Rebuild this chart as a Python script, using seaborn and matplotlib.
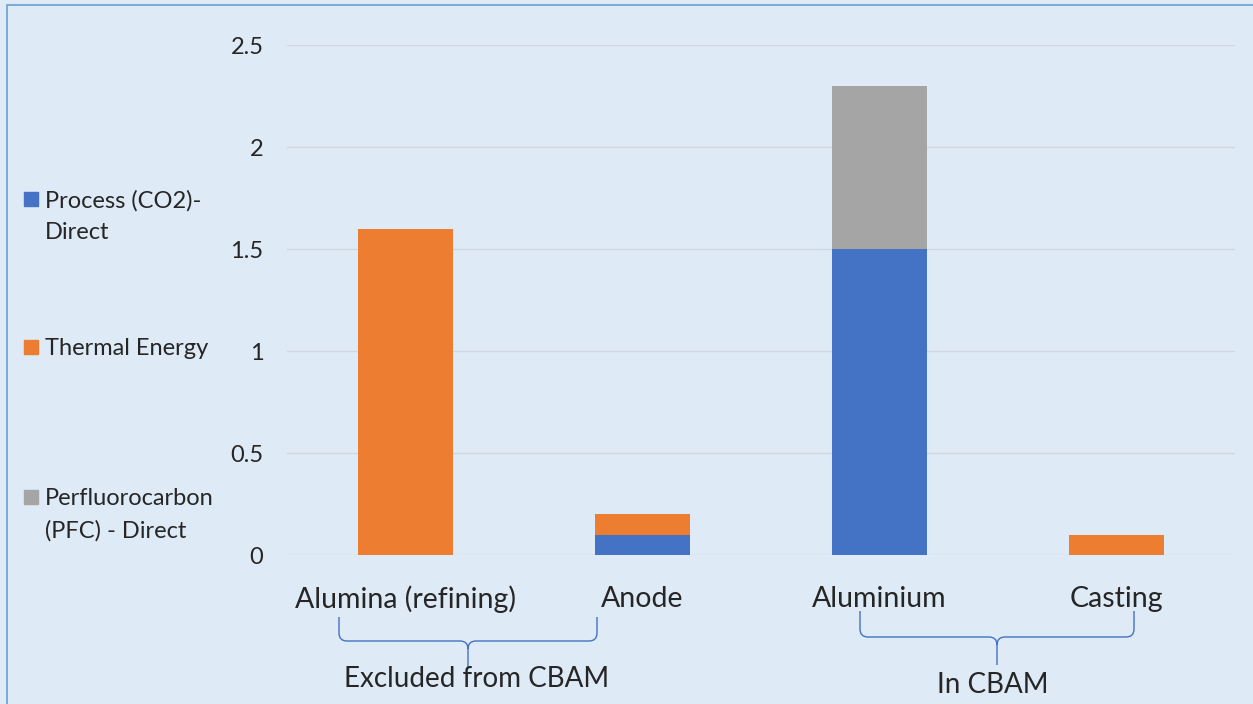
import matplotlib
matplotlib.use("Agg")
import matplotlib.pyplot as plt
import pandas as pd
import seaborn as sns
from matplotlib.path import Path
from matplotlib.patches import PathPatch, Rectangle

# data
categories = ["Alumina (refining)", "Anode", "Aluminium", "Casting"]
process = [0, 0.1, 1.5, 0]
thermal = [1.6, 0.1, 0, 0.1]
pfc = [0, 0, 0.8, 0]
series = ["Process (CO2)-\nDirect", "Thermal Energy", "Perfluorocarbon\n(PFC) - Direct"]
colors = ["#4472C4", "#ED7D31", "#A5A5A5"]
groups = ["Excluded from CBAM", "In CBAM"]
yticks = [0, 0.5, 1, 1.5, 2, 2.5]
ytick_labels = ["0", "0.5", "1", "1.5", "2", "2.5"]

bg = "#DEEAF6"
sns.set_style("white")
plt.rcParams["font.family"] = ["Lato", "DejaVu Sans"]

W, H = 1253, 704
fig = plt.figure(figsize=(W / 100, H / 100), dpi=100, facecolor=bg)
ax = fig.add_axes([287 / W, 1 - 555 / H, (1235 - 287) / W, (555 - 45) / H])
ax.set_facecolor(bg)

df = pd.DataFrame({"cat": categories, "process": process,
                   "thermal": thermal, "pfc": pfc})
df["c1"] = df["process"]
df["c2"] = df["c1"] + df["thermal"]
df["c3"] = df["c2"] + df["pfc"]

# stacked bars drawn as cumulative totals, top layer first
for col, color, z in [("c3", colors[2], 2), ("c2", colors[1], 3), ("c1", colors[0], 4)]:
    sns.barplot(data=df, x="cat", y=col, color=color, width=0.4,
                saturation=1, ax=ax, zorder=z, linewidth=0)

ax.set_ylim(0, 2.5)
ax.set_xlim(-0.5, 3.5)
ax.set_yticks(yticks)
ax.set_yticklabels(ytick_labels)
ax.yaxis.grid(True, color="#D0D7DE", linewidth=1)
ax.set_axisbelow(True)
for s in ax.spines.values():
    s.set_visible(False)
ax.tick_params(axis="y", length=0, pad=17, labelsize=17)
ax.tick_params(axis="x", length=0, pad=22, labelsize=20.5)
ax.set_xlabel("")
ax.set_ylabel("")

# legend on the left
leg_y = [199, 347, 497]
for lab, color, y in zip(series, colors, leg_y):
    fig.patches.append(Rectangle((24 / W, 1 - (y + 7) / H), 14 / W, 14 / H,
                                 transform=fig.transFigure, color=color))
    fig.text(45 / W, 1 - (y - 9) / H, lab, fontsize=17, va="top", ha="left",
             linespacing=1.62)


# braces under the categories
def brace(x0, x1, xm, ytop, ymid, ybot, r=8):
    pts = [(x0, ytop), (x0, ymid - r), (x0, ymid), (x0 + r, ymid),
           (xm - r, ymid), (xm, ymid), (xm, ymid + r), (xm, ybot),
           (xm, ymid + r), (xm, ymid), (xm + r, ymid),
           (x1 - r, ymid), (x1, ymid), (x1, ymid - r), (x1, ytop)]
    codes = [Path.MOVETO, Path.LINETO, Path.CURVE3, Path.CURVE3,
             Path.LINETO, Path.CURVE3, Path.CURVE3, Path.LINETO,
             Path.MOVETO, Path.CURVE3, Path.CURVE3,
             Path.LINETO, Path.CURVE3, Path.CURVE3, Path.LINETO]
    pts = [(x / W, 1 - y / H) for x, y in pts]
    fig.patches.append(PathPatch(Path(pts, codes), transform=fig.transFigure,
                                 fill=False, edgecolor="#4472C4", linewidth=1))


brace(339, 597, 468, 617, 641, 667)
brace(860, 1134, 997, 611, 637, 665)
fig.text(477 / W, 1 - 679 / H, groups[0], fontsize=20, ha="center", va="center")
fig.text(993 / W, 1 - 685 / H, groups[1], fontsize=20, ha="center", va="center")

# frame edge
fig.patches.append(Rectangle((7 / W, -0.1), 1.2, 1 - 5 / H + 0.1,
                             transform=fig.transFigure, fill=False,
                             edgecolor="#6A9FD3", linewidth=1.2))

fig.savefig("out.png", dpi=100, facecolor=bg)
